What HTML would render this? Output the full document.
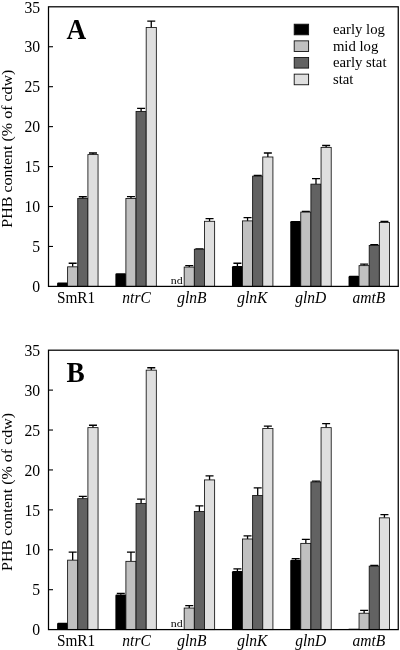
<!DOCTYPE html>
<html><head><meta charset="utf-8"><title>PHB content</title>
<style>
html,body{margin:0;padding:0;background:#fff;}
body{width:400px;height:650px;overflow:hidden;}
svg{display:block;font-family:"Liberation Serif",serif;will-change:transform;transform:translateZ(0);}
text{fill:#000;}
</style></head><body>
<svg width="400" height="650" viewBox="0 0 400 650">
<rect width="400" height="650" fill="#fff"/>
<path d="M57.10 286.40V283.86Q57.10 282.56 58.40 282.56H66.60Q67.90 282.56 67.90 283.86V286.40Z" fill="#000"/>
<path d="M72.67 266.83V263.23M68.67 263.23H76.67" stroke="#000" stroke-width="1.3" fill="none"/>
<rect x="67.60" y="266.83" width="10.15" height="19.57" fill="#c0c0c0" stroke="#111" stroke-width="0.85"/>
<path d="M82.82 198.53V196.77M78.82 196.77H86.82" stroke="#000" stroke-width="1.3" fill="none"/>
<rect x="77.75" y="198.53" width="10.15" height="87.87" fill="#626262" stroke="#111" stroke-width="0.85"/>
<path d="M92.97 154.59V152.99M88.97 152.99H96.97" stroke="#000" stroke-width="1.3" fill="none"/>
<rect x="87.90" y="154.59" width="10.15" height="131.81" fill="#dfdfdf" stroke="#111" stroke-width="0.85"/>
<path d="M115.39 286.40V274.52Q115.39 273.22 116.69 273.22H124.89Q126.19 273.22 126.19 274.52V286.40Z" fill="#000"/>
<path d="M130.96 198.53V196.53M126.96 196.53H134.96" stroke="#000" stroke-width="1.3" fill="none"/>
<rect x="125.89" y="198.53" width="10.15" height="87.87" fill="#c0c0c0" stroke="#111" stroke-width="0.85"/>
<path d="M141.11 111.45V108.41M137.11 108.41H145.11" stroke="#000" stroke-width="1.3" fill="none"/>
<rect x="136.04" y="111.45" width="10.15" height="174.95" fill="#626262" stroke="#111" stroke-width="0.85"/>
<path d="M151.26 27.57V21.18M147.26 21.18H155.26" stroke="#000" stroke-width="1.3" fill="none"/>
<rect x="146.19" y="27.57" width="10.15" height="258.83" fill="#dfdfdf" stroke="#111" stroke-width="0.85"/>
<text transform="translate(176.70 283.80) scale(1.08 1)" font-size="11" text-anchor="middle">nd</text>
<path d="M189.25 267.07V265.63M185.25 265.63H193.25" stroke="#000" stroke-width="1.3" fill="none"/>
<rect x="184.18" y="267.07" width="10.15" height="19.33" fill="#c0c0c0" stroke="#111" stroke-width="0.85"/>
<path d="M199.40 249.25V248.85M195.40 248.85H203.40" stroke="#000" stroke-width="1.3" fill="none"/>
<rect x="194.33" y="249.25" width="10.15" height="37.15" fill="#626262" stroke="#111" stroke-width="0.85"/>
<path d="M209.55 221.29V218.66M205.55 218.66H213.55" stroke="#000" stroke-width="1.3" fill="none"/>
<rect x="204.48" y="221.29" width="10.15" height="65.11" fill="#dfdfdf" stroke="#111" stroke-width="0.85"/>
<path d="M237.40 266.43V263.23M233.40 263.23H241.40" stroke="#000" stroke-width="1.3" fill="none"/>
<path d="M231.97 286.40V267.33Q231.97 266.03 233.27 266.03H241.47Q242.77 266.03 242.77 267.33V286.40Z" fill="#000"/>
<path d="M247.55 220.89V217.70M243.55 217.70H251.55" stroke="#000" stroke-width="1.3" fill="none"/>
<rect x="242.47" y="220.89" width="10.15" height="65.51" fill="#c0c0c0" stroke="#111" stroke-width="0.85"/>
<path d="M257.70 176.16V175.36M253.70 175.36H261.70" stroke="#000" stroke-width="1.3" fill="none"/>
<rect x="252.62" y="176.16" width="10.15" height="110.24" fill="#626262" stroke="#111" stroke-width="0.85"/>
<path d="M267.85 156.99V152.99M263.85 152.99H271.85" stroke="#000" stroke-width="1.3" fill="none"/>
<rect x="262.77" y="156.99" width="10.15" height="129.41" fill="#dfdfdf" stroke="#111" stroke-width="0.85"/>
<path d="M290.26 286.40V222.19Q290.26 220.89 291.56 220.89H299.76Q301.06 220.89 301.06 222.19V286.40Z" fill="#000"/>
<path d="M305.84 212.11V211.31M301.84 211.31H309.84" stroke="#000" stroke-width="1.3" fill="none"/>
<rect x="300.76" y="212.11" width="10.15" height="74.29" fill="#c0c0c0" stroke="#111" stroke-width="0.85"/>
<path d="M315.99 184.15V178.55M311.99 178.55H319.99" stroke="#000" stroke-width="1.3" fill="none"/>
<rect x="310.91" y="184.15" width="10.15" height="102.25" fill="#626262" stroke="#111" stroke-width="0.85"/>
<path d="M326.14 147.40V145.48M322.14 145.48H330.14" stroke="#000" stroke-width="1.3" fill="none"/>
<rect x="321.06" y="147.40" width="10.15" height="139.00" fill="#dfdfdf" stroke="#111" stroke-width="0.85"/>
<path d="M348.55 286.40V277.15Q348.55 275.85 349.85 275.85H358.05Q359.35 275.85 359.35 277.15V286.40Z" fill="#000"/>
<path d="M364.13 265.63V264.03M360.13 264.03H368.13" stroke="#000" stroke-width="1.3" fill="none"/>
<rect x="359.05" y="265.63" width="10.15" height="20.77" fill="#c0c0c0" stroke="#111" stroke-width="0.85"/>
<path d="M374.28 245.42V244.62M370.28 244.62H378.28" stroke="#000" stroke-width="1.3" fill="none"/>
<rect x="369.20" y="245.42" width="10.15" height="40.98" fill="#626262" stroke="#111" stroke-width="0.85"/>
<path d="M384.43 222.49V221.29M380.43 221.29H388.43" stroke="#000" stroke-width="1.3" fill="none"/>
<rect x="379.35" y="222.49" width="10.15" height="63.91" fill="#dfdfdf" stroke="#111" stroke-width="0.85"/>
<rect x="48.5" y="6.8" width="349.75" height="279.60" fill="none" stroke="#000" stroke-width="1.25"/>
<text transform="translate(40.20 292.10) scale(0.958 1)" font-size="16.4" text-anchor="end">0</text>
<path d="M48.5 246.46H53.0" stroke="#000" stroke-width="1.1"/>
<text transform="translate(40.20 252.16) scale(0.958 1)" font-size="16.4" text-anchor="end">5</text>
<path d="M48.5 206.51H53.0" stroke="#000" stroke-width="1.1"/>
<text transform="translate(40.20 212.21) scale(0.958 1)" font-size="16.4" text-anchor="end">10</text>
<path d="M48.5 166.57H53.0" stroke="#000" stroke-width="1.1"/>
<text transform="translate(40.20 172.27) scale(0.958 1)" font-size="16.4" text-anchor="end">15</text>
<path d="M48.5 126.63H53.0" stroke="#000" stroke-width="1.1"/>
<text transform="translate(40.20 132.33) scale(0.958 1)" font-size="16.4" text-anchor="end">20</text>
<path d="M48.5 86.69H53.0" stroke="#000" stroke-width="1.1"/>
<text transform="translate(40.20 92.39) scale(0.958 1)" font-size="16.4" text-anchor="end">25</text>
<path d="M48.5 46.74H53.0" stroke="#000" stroke-width="1.1"/>
<text transform="translate(40.20 52.44) scale(0.958 1)" font-size="16.4" text-anchor="end">30</text>
<text transform="translate(40.20 12.50) scale(0.958 1)" font-size="16.4" text-anchor="end">35</text>
<text transform="translate(76.05 302.70) scale(0.893 1)" font-size="17.1" text-anchor="middle">SmR1</text>
<text transform="translate(136.54 302.70) scale(0.91 1)" font-size="17.1" text-anchor="middle" font-style="italic">ntrC</text>
<text transform="translate(191.83 302.70) scale(0.91 1)" font-size="17.1" text-anchor="middle" font-style="italic">glnB</text>
<text transform="translate(252.27 302.70) scale(0.91 1)" font-size="17.1" text-anchor="middle" font-style="italic">glnK</text>
<text transform="translate(310.71 302.70) scale(0.91 1)" font-size="17.1" text-anchor="middle" font-style="italic">glnD</text>
<text transform="translate(368.90 302.70) scale(0.91 1)" font-size="17.1" text-anchor="middle" font-style="italic">amtB</text>
<text transform="translate(12.3 148.60) scale(0.95 1) rotate(-90)" font-size="16" text-anchor="middle">PHB content (% of cdw)</text>
<text transform="translate(66.60 38.80) scale(0.91 1)" font-size="30" text-anchor="start" font-weight="bold">A</text>
<rect x="294.2" y="24.20" width="14.4" height="10.6" fill="#000000" stroke="#111" stroke-width="0.9"/>
<text transform="translate(332.90 34.00) scale(0.99 1)" font-size="14.9" text-anchor="start">early log</text>
<rect x="294.2" y="40.85" width="14.4" height="10.6" fill="#c0c0c0" stroke="#111" stroke-width="0.9"/>
<text transform="translate(332.90 50.65) scale(0.99 1)" font-size="14.9" text-anchor="start">mid log</text>
<rect x="294.2" y="57.50" width="14.4" height="10.6" fill="#626262" stroke="#111" stroke-width="0.9"/>
<text transform="translate(332.90 67.30) scale(0.99 1)" font-size="14.9" text-anchor="start">early stat</text>
<rect x="294.2" y="74.15" width="14.4" height="10.6" fill="#dfdfdf" stroke="#111" stroke-width="0.9"/>
<text transform="translate(332.90 83.95) scale(0.99 1)" font-size="14.9" text-anchor="start">stat</text>
<path d="M57.10 629.60V624.11Q57.10 622.81 58.40 622.81H66.60Q67.90 622.81 67.90 624.11V629.60Z" fill="#000"/>
<path d="M72.67 560.15V552.17M68.67 552.17H76.67" stroke="#000" stroke-width="1.3" fill="none"/>
<rect x="67.60" y="560.15" width="10.15" height="69.45" fill="#c0c0c0" stroke="#111" stroke-width="0.85"/>
<path d="M82.82 498.68V496.29M78.82 496.29H86.82" stroke="#000" stroke-width="1.3" fill="none"/>
<rect x="77.75" y="498.68" width="10.15" height="130.92" fill="#626262" stroke="#111" stroke-width="0.85"/>
<path d="M92.97 427.63V425.24M88.97 425.24H96.97" stroke="#000" stroke-width="1.3" fill="none"/>
<rect x="87.90" y="427.63" width="10.15" height="201.97" fill="#dfdfdf" stroke="#111" stroke-width="0.85"/>
<path d="M120.81 594.87V593.44M116.81 593.44H124.81" stroke="#000" stroke-width="1.3" fill="none"/>
<path d="M115.39 629.60V595.77Q115.39 594.47 116.69 594.47H124.89Q126.19 594.47 126.19 595.77V629.60Z" fill="#000"/>
<path d="M130.96 561.35V552.17M126.96 552.17H134.96" stroke="#000" stroke-width="1.3" fill="none"/>
<rect x="125.89" y="561.35" width="10.15" height="68.25" fill="#c0c0c0" stroke="#111" stroke-width="0.85"/>
<path d="M141.11 503.47V499.08M137.11 499.08H145.11" stroke="#000" stroke-width="1.3" fill="none"/>
<rect x="136.04" y="503.47" width="10.15" height="126.13" fill="#626262" stroke="#111" stroke-width="0.85"/>
<path d="M151.26 370.16V367.76M147.26 367.76H155.26" stroke="#000" stroke-width="1.3" fill="none"/>
<rect x="146.19" y="370.16" width="10.15" height="259.44" fill="#dfdfdf" stroke="#111" stroke-width="0.85"/>
<text transform="translate(176.70 627.00) scale(1.08 1)" font-size="11" text-anchor="middle">nd</text>
<path d="M189.25 608.05V605.65M185.25 605.65H193.25" stroke="#000" stroke-width="1.3" fill="none"/>
<rect x="184.18" y="608.05" width="10.15" height="21.55" fill="#c0c0c0" stroke="#111" stroke-width="0.85"/>
<path d="M199.40 511.45V505.87M195.40 505.87H203.40" stroke="#000" stroke-width="1.3" fill="none"/>
<rect x="194.33" y="511.45" width="10.15" height="118.15" fill="#626262" stroke="#111" stroke-width="0.85"/>
<path d="M209.55 479.92V475.93M205.55 475.93H213.55" stroke="#000" stroke-width="1.3" fill="none"/>
<rect x="204.48" y="479.92" width="10.15" height="149.68" fill="#dfdfdf" stroke="#111" stroke-width="0.85"/>
<path d="M237.40 571.33V568.93M233.40 568.93H241.40" stroke="#000" stroke-width="1.3" fill="none"/>
<path d="M231.97 629.60V572.23Q231.97 570.93 233.27 570.93H241.47Q242.77 570.93 242.77 572.23V629.60Z" fill="#000"/>
<path d="M247.55 538.99V535.80M243.55 535.80H251.55" stroke="#000" stroke-width="1.3" fill="none"/>
<rect x="242.47" y="538.99" width="10.15" height="90.61" fill="#c0c0c0" stroke="#111" stroke-width="0.85"/>
<path d="M257.70 495.49V487.90M253.70 487.90H261.70" stroke="#000" stroke-width="1.3" fill="none"/>
<rect x="252.62" y="495.49" width="10.15" height="134.11" fill="#626262" stroke="#111" stroke-width="0.85"/>
<path d="M267.85 428.43V426.04M263.85 426.04H271.85" stroke="#000" stroke-width="1.3" fill="none"/>
<rect x="262.77" y="428.43" width="10.15" height="201.17" fill="#dfdfdf" stroke="#111" stroke-width="0.85"/>
<path d="M295.69 560.15V558.55M291.69 558.55H299.69" stroke="#000" stroke-width="1.3" fill="none"/>
<path d="M290.26 629.60V561.05Q290.26 559.75 291.56 559.75H299.76Q301.06 559.75 301.06 561.05V629.60Z" fill="#000"/>
<path d="M305.84 543.39V539.39M301.84 539.39H309.84" stroke="#000" stroke-width="1.3" fill="none"/>
<rect x="300.76" y="543.39" width="10.15" height="86.21" fill="#c0c0c0" stroke="#111" stroke-width="0.85"/>
<path d="M315.99 481.92V481.12M311.99 481.12H319.99" stroke="#000" stroke-width="1.3" fill="none"/>
<rect x="310.91" y="481.92" width="10.15" height="147.68" fill="#626262" stroke="#111" stroke-width="0.85"/>
<path d="M326.14 427.63V423.64M322.14 423.64H330.14" stroke="#000" stroke-width="1.3" fill="none"/>
<rect x="321.06" y="427.63" width="10.15" height="201.97" fill="#dfdfdf" stroke="#111" stroke-width="0.85"/>
<path d="M348.55 629.60V629.00Q348.55 628.80 348.75 628.80H359.15Q359.35 628.80 359.35 629.00V629.60Z" fill="#000"/>
<path d="M364.13 613.24V610.44M360.13 610.44H368.13" stroke="#000" stroke-width="1.3" fill="none"/>
<rect x="359.05" y="613.24" width="10.15" height="16.36" fill="#c0c0c0" stroke="#111" stroke-width="0.85"/>
<path d="M374.28 566.14V565.50M370.28 565.50H378.28" stroke="#000" stroke-width="1.3" fill="none"/>
<rect x="369.20" y="566.14" width="10.15" height="63.46" fill="#626262" stroke="#111" stroke-width="0.85"/>
<path d="M384.43 517.84V514.65M380.43 514.65H388.43" stroke="#000" stroke-width="1.3" fill="none"/>
<rect x="379.35" y="517.84" width="10.15" height="111.76" fill="#dfdfdf" stroke="#111" stroke-width="0.85"/>
<rect x="48.5" y="350.2" width="349.75" height="279.40" fill="none" stroke="#000" stroke-width="1.25"/>
<text transform="translate(40.20 635.30) scale(0.958 1)" font-size="16.4" text-anchor="end">0</text>
<path d="M48.5 589.69H53.0" stroke="#000" stroke-width="1.1"/>
<text transform="translate(40.20 595.39) scale(0.958 1)" font-size="16.4" text-anchor="end">5</text>
<path d="M48.5 549.77H53.0" stroke="#000" stroke-width="1.1"/>
<text transform="translate(40.20 555.47) scale(0.958 1)" font-size="16.4" text-anchor="end">10</text>
<path d="M48.5 509.86H53.0" stroke="#000" stroke-width="1.1"/>
<text transform="translate(40.20 515.56) scale(0.958 1)" font-size="16.4" text-anchor="end">15</text>
<path d="M48.5 469.94H53.0" stroke="#000" stroke-width="1.1"/>
<text transform="translate(40.20 475.64) scale(0.958 1)" font-size="16.4" text-anchor="end">20</text>
<path d="M48.5 430.03H53.0" stroke="#000" stroke-width="1.1"/>
<text transform="translate(40.20 435.73) scale(0.958 1)" font-size="16.4" text-anchor="end">25</text>
<path d="M48.5 390.11H53.0" stroke="#000" stroke-width="1.1"/>
<text transform="translate(40.20 395.81) scale(0.958 1)" font-size="16.4" text-anchor="end">30</text>
<text transform="translate(40.20 355.90) scale(0.958 1)" font-size="16.4" text-anchor="end">35</text>
<text transform="translate(76.05 645.90) scale(0.893 1)" font-size="17.1" text-anchor="middle">SmR1</text>
<text transform="translate(136.54 645.90) scale(0.91 1)" font-size="17.1" text-anchor="middle" font-style="italic">ntrC</text>
<text transform="translate(191.83 645.90) scale(0.91 1)" font-size="17.1" text-anchor="middle" font-style="italic">glnB</text>
<text transform="translate(252.27 645.90) scale(0.91 1)" font-size="17.1" text-anchor="middle" font-style="italic">glnK</text>
<text transform="translate(310.71 645.90) scale(0.91 1)" font-size="17.1" text-anchor="middle" font-style="italic">glnD</text>
<text transform="translate(368.90 645.90) scale(0.91 1)" font-size="17.1" text-anchor="middle" font-style="italic">amtB</text>
<text transform="translate(12.3 491.90) scale(0.95 1) rotate(-90)" font-size="16" text-anchor="middle">PHB content (% of cdw)</text>
<text transform="translate(66.60 382.20) scale(0.91 1)" font-size="30" text-anchor="start" font-weight="bold">B</text>
</svg>
</body></html>
